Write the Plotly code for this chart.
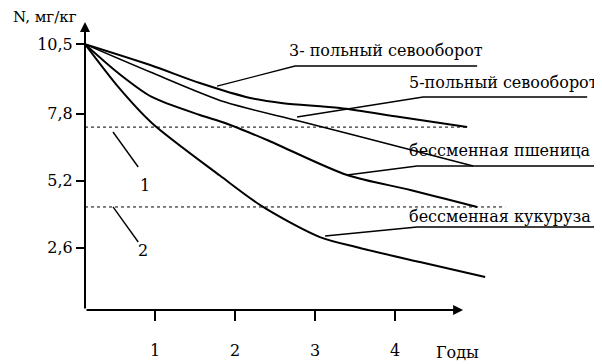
import plotly.graph_objects as go

# ---- data (years, N mg/kg) ----
x_start = 0.125
years_3f = [x_start, 0.94, 1.56, 2.19, 2.6, 3.31, 4.06, 4.9]
n_3f = [10.5, 9.69, 8.99, 8.41, 8.21, 8.02, 7.67, 7.28]

years_5f = [x_start, 0.94, 1.875, 2.81, 4.06, 4.975]
n_5f = [10.5, 9.42, 8.25, 7.51, 6.51, 5.77]

years_wheat = [x_start, 0.54, 0.96, 1.56, 1.875, 2.4, 3.4, 4.19, 5.025]
n_wheat = [10.5, 9.38, 8.45, 7.75, 7.44, 6.78, 5.42, 4.84, 4.18]

years_corn = [x_start, 0.54, 0.96, 1.81, 2.35, 3.06, 3.56, 4.31, 5.125]
n_corn = [10.5, 8.84, 7.44, 5.40, 4.18, 3.01, 2.59, 2.04, 1.46]

# reference levels (dotted)
level1_x = [x_start, 4.9]
level1_y = [7.28, 7.28]
level2_x = [x_start, 5.375]
level2_y = [4.18, 4.18]

# label texts and leader lines
label_3f = "3- польный севооборот"
leader_3f_x = [1.775, 2.75, 5.025]
leader_3f_y = [8.87, 9.65, 9.65]

label_5f = "5-польный севооборот"
leader_5f_x = [2.775, 4.35, 6.4]
leader_5f_y = [7.67, 8.45, 8.45]

label_wheat = "бессменная пшеница"
leader_wheat_x = [3.4, 4.275, 6.525]
leader_wheat_y = [5.42, 5.77, 5.77]

label_corn = "бессменная кукуруза"
leader_corn_x = [3.125, 4.275, 6.525]
leader_corn_y = [3.05, 3.40, 3.40]

leader1_x = [0.475, 0.79]
leader1_y = [7.09, 5.73]
leader2_x = [0.475, 0.79]
leader2_y = [4.18, 2.82]

y_ticks = [2.6, 5.2, 7.8, 10.5]
y_tick_text = ["2,6", "5,2", "7,8", "10,5"]
x_ticks = [1, 2, 3, 4]
x_tick_text = ["1", "2", "3", "4"]

x_range = [x_start, 6.56]
y_range = [0.18, 11.36]
x_axis_end = 4.85

FONT = "DejaVu Serif"
FS = 16

fig = go.Figure()

def line(x, y, w=2.0, dash=None, smooth=True):
    fig.add_trace(go.Scatter(
        x=x, y=y, mode="lines", showlegend=False, hoverinfo="skip",
        line=dict(color="black", width=w, dash=dash,
                  shape="spline" if smooth else "linear", smoothing=0.8),
    ))

line(level1_x, level1_y, w=1, dash="dot", smooth=False)
line(level2_x, level2_y, w=1, dash="dot", smooth=False)

line(years_3f, n_3f)
line(years_5f, n_5f, w=1.6)
line(years_wheat, n_wheat)
line(years_corn, n_corn)

for lx, ly in [(leader_3f_x, leader_3f_y), (leader_5f_x, leader_5f_y),
               (leader_wheat_x, leader_wheat_y), (leader_corn_x, leader_corn_y),
               (leader1_x, leader1_y), (leader2_x, leader2_y)]:
    line(lx, ly, w=1.4, smooth=False)

anns = []
def txt(x, y, t, xanchor="left", size=FS, xref="x", yref="y"):
    anns.append(dict(x=x, y=y, xref=xref, yref=yref, text=t, showarrow=False,
                     xanchor=xanchor, yanchor="middle",
                     font=dict(family=FONT, size=size, color="black")))

txt(leader_3f_x[1] - 0.1, leader_3f_y[1] + 0.62, label_3f)
txt(leader_5f_x[1] - 0.2, leader_5f_y[1] + 0.55, label_5f)
txt(leader_wheat_x[1] - 0.13, leader_wheat_y[1] + 0.6, label_wheat)
txt(leader_corn_x[1] - 0.13, leader_corn_y[1] + 0.4, label_corn)
txt(0.875, 5.03, "1", xanchor="center")
txt(0.85, 2.50, "2", xanchor="center")

anns.append(dict(x=-0.077, y=1.018, xref="x domain", yref="y domain", text="N, мг/кг",
                 showarrow=False, xanchor="center", yanchor="middle",
                 font=dict(family=FONT, size=15, color="black")))
anns.append(dict(x=4.775, y=-0.147, xref="x", yref="y domain", text="Годы",
                 showarrow=False, xanchor="center", yanchor="middle",
                 font=dict(family=FONT, size=FS, color="black")))

# axis arrows
anns.append(dict(x=x_axis_end, y=y_range[0], ax=x_start, ay=y_range[0],
                 xref="x", yref="y", axref="x", ayref="y", text="",
                 showarrow=True, arrowhead=2, arrowsize=1, arrowwidth=2,
                 arrowcolor="black", standoff=0, startstandoff=0))
anns.append(dict(x=x_start, y=y_range[1], ax=x_start, ay=y_range[0],
                 xref="x", yref="y", axref="x", ayref="y", text="",
                 showarrow=True, arrowhead=2, arrowsize=1, arrowwidth=2,
                 arrowcolor="black", standoff=0, startstandoff=0))

# page body has an 8px margin, so the figure is 8px smaller on each side
fig.update_layout(
    width=594, height=356,
    margin=dict(l=77, r=2, t=14, b=54, autoexpand=False),
    paper_bgcolor="white", plot_bgcolor="white",
    annotations=anns,
    xaxis=dict(range=x_range, showgrid=False, zeroline=False, showline=False,
               automargin=False,
               tickmode="array", tickvals=x_ticks, ticktext=x_tick_text,
               ticks="outside", ticklen=10, tickwidth=1.5, tickcolor="black",
               ticklabelstandoff=16,
               tickfont=dict(family=FONT, size=FS, color="black")),
    yaxis=dict(range=y_range, showgrid=False, zeroline=False, showline=False,
               automargin=False,
               tickmode="array", tickvals=y_ticks, ticktext=y_tick_text,
               ticks="outside", ticklen=8, tickwidth=1.5, tickcolor="black",
               tickfont=dict(family=FONT, size=FS, color="black")),
)

fig.write_html("out.html")
